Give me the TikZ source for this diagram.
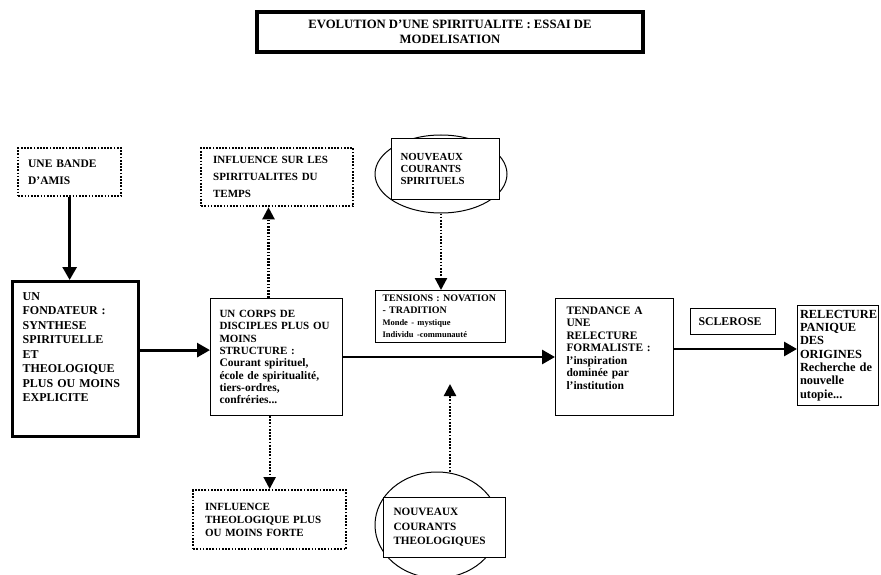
\documentclass[tikz,border=0pt]{standalone}
\usepackage{fontspec}
\setmainfont{Liberation Serif}
\usetikzlibrary{arrows.meta,positioning,shapes.geometric}
\newcommand{\smtxt}[1]{{\fontsize{11.5}{12}\selectfont #1}}
\newcommand{\tinytxt}[1]{{\fontsize{8.5}{12}\selectfont #1}}

\begin{document}
\begin{tikzpicture}[
        x=1pt,y=-1pt,
        boxtext/.style={draw, line width=1pt, anchor=north west, align=left, inner ysep=2pt},
        heavybox/.style={boxtext, line width=3.2pt},
        dotbox/.style={boxtext, line width=2.3pt, dash pattern=on 1.7pt off 1.5pt},
        ovalnode/.style={draw, ellipse, line width=1pt, inner sep=0pt},
        padbottom/.style={execute at end node={\endgraf\vspace*{#1}}},
        flowarrow/.style={-{Triangle[length=13pt,width=14pt]}, line width=2.8pt},
        dotarrow/.style={-{Triangle[length=12pt,width=12pt]}, line width=2.3pt,
            dash pattern=on 1.7pt off 1.5pt}
    ]
        \useasboundingbox (0,0) rectangle (881,575);

        \node[heavybox, anchor=center, align=center, minimum width=386pt, minimum height=40pt,
            font=\fontsize{12.7}{15}\selectfont\bfseries] (title) at (450,32)
            {EVOLUTION D'UNE SPIRITUALITE : ESSAI DE\\MODELISATION};

        \node[dotbox, minimum width=103pt, minimum height=48pt, inner xsep=10pt, text width=83pt,
            font=\fontsize{11.5}{17.5}\selectfont\bfseries] (bande) at (17,147)
            {UNE BANDE\\D'AMIS};
        \node[heavybox, minimum width=126pt, minimum height=155pt, inner xsep=10pt, text width=106pt,
            padbottom=24pt, font=\fontsize{12}{14.5}\selectfont\bfseries] (fond) at (11,280)
            {UN\\FONDATEUR :\\SYNTHESE\\SPIRITUELLE\\ET\\THEOLOGIQUE\\PLUS OU MOINS\\EXPLICITE};

        \node[boxtext, minimum width=132pt, minimum height=117pt, inner xsep=9pt, text width=114pt,
            font=\fontsize{11}{12.3}\selectfont\bfseries] (corps) at (210,298)
            {UN CORPS DE\\DISCIPLES PLUS OU\\MOINS\\STRUCTURE :\\\smtxt{Courant spirituel,}\\
             \smtxt{école de spiritualité,}\\\smtxt{tiers-ordres,}\\\smtxt{confréries...}};
        \node[dotbox, minimum width=152pt, minimum height=58pt, inner xsep=12pt, text width=128pt,
            font=\fontsize{11}{17}\selectfont\bfseries] (infsp) at (200,147)
            {INFLUENCE SUR LES\\SPIRITUALITES DU\\TEMPS};
        \node[dotbox, minimum width=153pt, minimum height=59pt, inner xsep=12pt, text width=129pt,
            font=\fontsize{11}{13}\selectfont\bfseries] (infth) at (192,489)
            {INFLUENCE\\THEOLOGIQUE PLUS\\OU MOINS FORTE};

        % nouveaux courants
        \node[ovalnode, minimum width=132pt, minimum height=78pt] (ncs) at (441,174) {};
        \node[boxtext, fill=white, minimum width=108pt, minimum height=61pt, inner xsep=9pt, text width=90pt,
            font=\fontsize{10.8}{12}\selectfont\bfseries] (ncsbox) at (391,138)
            {NOUVEAUX\\COURANTS\\SPIRITUELS};
        \node[ovalnode, minimum width=124pt, minimum height=106pt] (nct) at (437,525) {};
        \node[boxtext, fill=white, minimum width=122pt, minimum height=60pt, inner xsep=10pt, text width=102pt,
            font=\fontsize{11.2}{14.5}\selectfont\bfseries] (nctbox) at (383,497)
            {NOUVEAUX\\COURANTS\\THEOLOGIQUES};

        \node[boxtext, minimum width=130pt, minimum height=52pt, inner xsep=7pt, text width=116pt,
            font=\fontsize{10}{12}\selectfont\bfseries] (tens) at (375,290)
            {TENSIONS : NOVATION\\- TRADITION\\\tinytxt{Monde - mystique}\\\tinytxt{Individu -communauté}};
        \node[boxtext, minimum width=118pt, minimum height=117pt, inner xsep=11pt, text width=96pt,
            padbottom=18pt, font=\fontsize{11.4}{12.5}\selectfont\bfseries] (tend) at (555,298)
            {TENDANCE A\\UNE\\RELECTURE\\FORMALISTE :\\\smtxt{l'inspiration}\\\smtxt{dominée par}\\
             \smtxt{l'institution}};
        \node[boxtext, minimum width=85pt, minimum height=26pt, inner xsep=8pt, text width=69pt,
            font=\fontsize{11.8}{13}\selectfont\bfseries] (scl) at (690,308) {SCLEROSE};
        \node[boxtext, minimum width=81pt, minimum height=100pt, inner xsep=2.5pt, text width=76pt,
            font=\fontsize{12.4}{13.3}\selectfont\bfseries] (relec) at (797,305)
            {RELECTURE\\PANIQUE\\DES\\ORIGINES\\Recherche de\\nouvelle\\utopie...};

        \coordinate (ntend) at (450,384);

        \draw[flowarrow] (bande.south) -- (bande.south |- fond.north);
        \draw[flowarrow] ([yshift=9pt]fond.east) -- ([yshift=9pt]fond.east -| corps.west);
        \draw[flowarrow] (corps.east) -- (corps.east -| tend.west);
        \draw[flowarrow] ([yshift=8pt]tend.east) -- ([yshift=8pt]tend.east -| relec.west);

        \draw[dotarrow] ([xshift=-8pt]corps.north) -- ([xshift=-8pt]corps.north |- infsp.south);
        \draw[dotarrow] (infth.north |- corps.south) -- (infth.north);
        \draw[dotarrow] (ncs.south) -- (ncs.south |- tens.north);
        \draw[dotarrow] (ntend |- nct.north) -- (ntend);
    \end{tikzpicture}
\end{document}
